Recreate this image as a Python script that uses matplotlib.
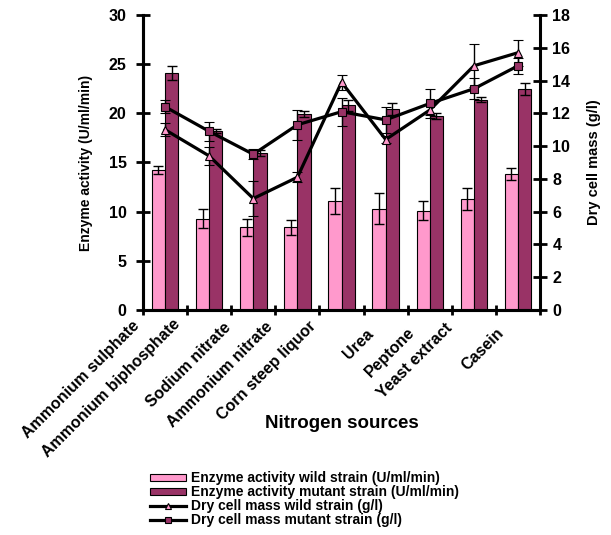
import numpy as np
import matplotlib.pyplot as plt
from matplotlib.transforms import ScaledTranslation
from matplotlib.lines import Line2D
from matplotlib.patches import Patch

plt.rcParams['font.family'] = ['Liberation Sans', 'DejaVu Sans']
plt.rcParams['font.weight'] = 'bold'
plt.rcParams['axes.labelweight'] = 'bold'

sources = ['Ammonium sulphate', 'Ammonium biphosphate', 'Sodium nitrate',
           'Ammonium nitrate', 'Corn steep liquor', 'Urea', 'Peptone',
           'Yeast extract', 'Casein']

# enzyme activity (U/ml/min)
enz_wild = [14.2, 9.3, 8.4, 8.4, 11.1, 10.3, 10.1, 11.3, 13.8]
enz_wild_err = [0.4, 1.0, 0.9, 0.8, 1.3, 1.6, 1.0, 1.1, 0.6]
enz_mut = [24.1, 18.2, 16.0, 19.9, 20.8, 20.4, 19.7, 21.4, 22.5]
enz_mut_err = [0.7, 0.2, 0.3, 0.3, 0.6, 0.6, 0.3, 0.3, 0.6]

# dry cell mass (g/l)
dcm_wild = [11.0, 9.4, 6.8, 8.1, 13.9, 10.4, 12.2, 14.9, 15.7]
dcm_wild_err = [0.4, 0.55, 1.05, 0.3, 0.45, 0.2, 0.3, 1.3, 0.8]
dcm_mut = [12.4, 10.9, 9.5, 11.3, 12.1, 11.6, 12.6, 13.5, 14.9]
dcm_mut_err = [0.4, 0.6, 0.3, 0.9, 0.85, 0.8, 0.9, 0.65, 0.5]

pink = '#FF99CC'
plum = '#993366'

x = np.arange(len(sources)) + 0.5
w = 0.3

fig = plt.figure(figsize=(6.11, 5.35), dpi=100)
ax = fig.add_axes([0.234, 0.4206, 0.65, 0.5514])
ax2 = ax.twinx()

ekw = dict(ecolor='black', elinewidth=1, capsize=3.5, capthick=1)
ax.bar(x - w / 2, enz_wild, w, yerr=enz_wild_err, color=pink,
       edgecolor='black', linewidth=0.8, error_kw=ekw, zorder=2)
ax.bar(x + w / 2, enz_mut, w, yerr=enz_mut_err, color=plum,
       edgecolor='black', linewidth=0.8, error_kw=ekw, zorder=2)

ax2.errorbar(x, dcm_wild, yerr=dcm_wild_err, color='black', lw=2.3,
             marker='^', ms=6, mfc=pink, mec='black', mew=0.8, **ekw)
ax2.errorbar(x, dcm_mut, yerr=dcm_mut_err, color='black', lw=2.3,
             marker='s', ms=5.5, mfc=plum, mec='black', mew=0.8, **ekw)

ax.set_xlim(0, len(sources))
ax.set_ylim(0, 30)
ax2.set_ylim(0, 18)
ax.set_yticks(np.arange(0, 31, 5))
ax2.set_yticks(np.arange(0, 19, 2))

for a in (ax, ax2):
    for s in a.spines.values():
        s.set_linewidth(2.2)
    a.spines['top'].set_visible(False)
    a.tick_params(axis='y', direction='inout', length=9.5, width=2,
                  labelsize=11.5)
ax.spines['right'].set_visible(False)
ax.tick_params(axis='y', pad=7)
ax2.tick_params(axis='y', pad=4)

# group boundaries as ticks, names at group centres
ax.set_xticks(np.arange(0, len(sources) + 1))
ax.set_xticklabels([])
ax.tick_params(axis='x', which='major', direction='inout', length=7, width=2)
ax.set_xticks(x, minor=True)
ax.set_xticklabels(sources, minor=True, rotation=45, ha='right', va='center',
                   rotation_mode='anchor', fontsize=11.5)
ax.tick_params(axis='x', which='minor', length=0, pad=0)
for lab in ax.get_xticklabels(minor=True):
    n = len(lab.get_text())
    dx = -(11 + n) / 100
    dy = -(24 - 0.6 * n) / 100
    lab.set_transform(lab.get_transform()
                      + ScaledTranslation(dx, dy, fig.dpi_scale_trans))

ax.set_xlabel('Nitrogen sources', fontsize=13.5)
ax.xaxis.set_label_coords(0.5, -0.355)
ax.set_ylabel('Enzyme activity (U/ml/min)', fontsize=10)
ax.yaxis.set_label_coords(-0.125, 0.5)
ax2.set_ylabel('Dry cell mass (g/l)', fontsize=10.5)
ax2.yaxis.set_label_coords(1.117, 0.5)

handles = [Patch(facecolor=pink, edgecolor='black', linewidth=0.8),
           Patch(facecolor=plum, edgecolor='black', linewidth=0.8),
           Line2D([], [], color='black', lw=2.3, marker='^', ms=5,
                  mfc=pink, mec='black', mew=0.8),
           Line2D([], [], color='black', lw=2.3, marker='s', ms=4.5,
                  mfc=plum, mec='black', mew=0.8)]
fig.legend(handles,
           ['Enzyme activity wild strain (U/ml/min)',
            'Enzyme activity mutant strain (U/ml/min)',
            'Dry cell mass wild strain (g/l)',
            'Dry cell mass mutant strain (g/l)'],
           loc='upper left', bbox_to_anchor=(0.245, 0.119), frameon=False,
           fontsize=10, handlelength=2.6, handleheight=0.4, handletextpad=0.35,
           labelspacing=0, borderpad=0, borderaxespad=0)

fig.savefig('out.png', dpi=100)
